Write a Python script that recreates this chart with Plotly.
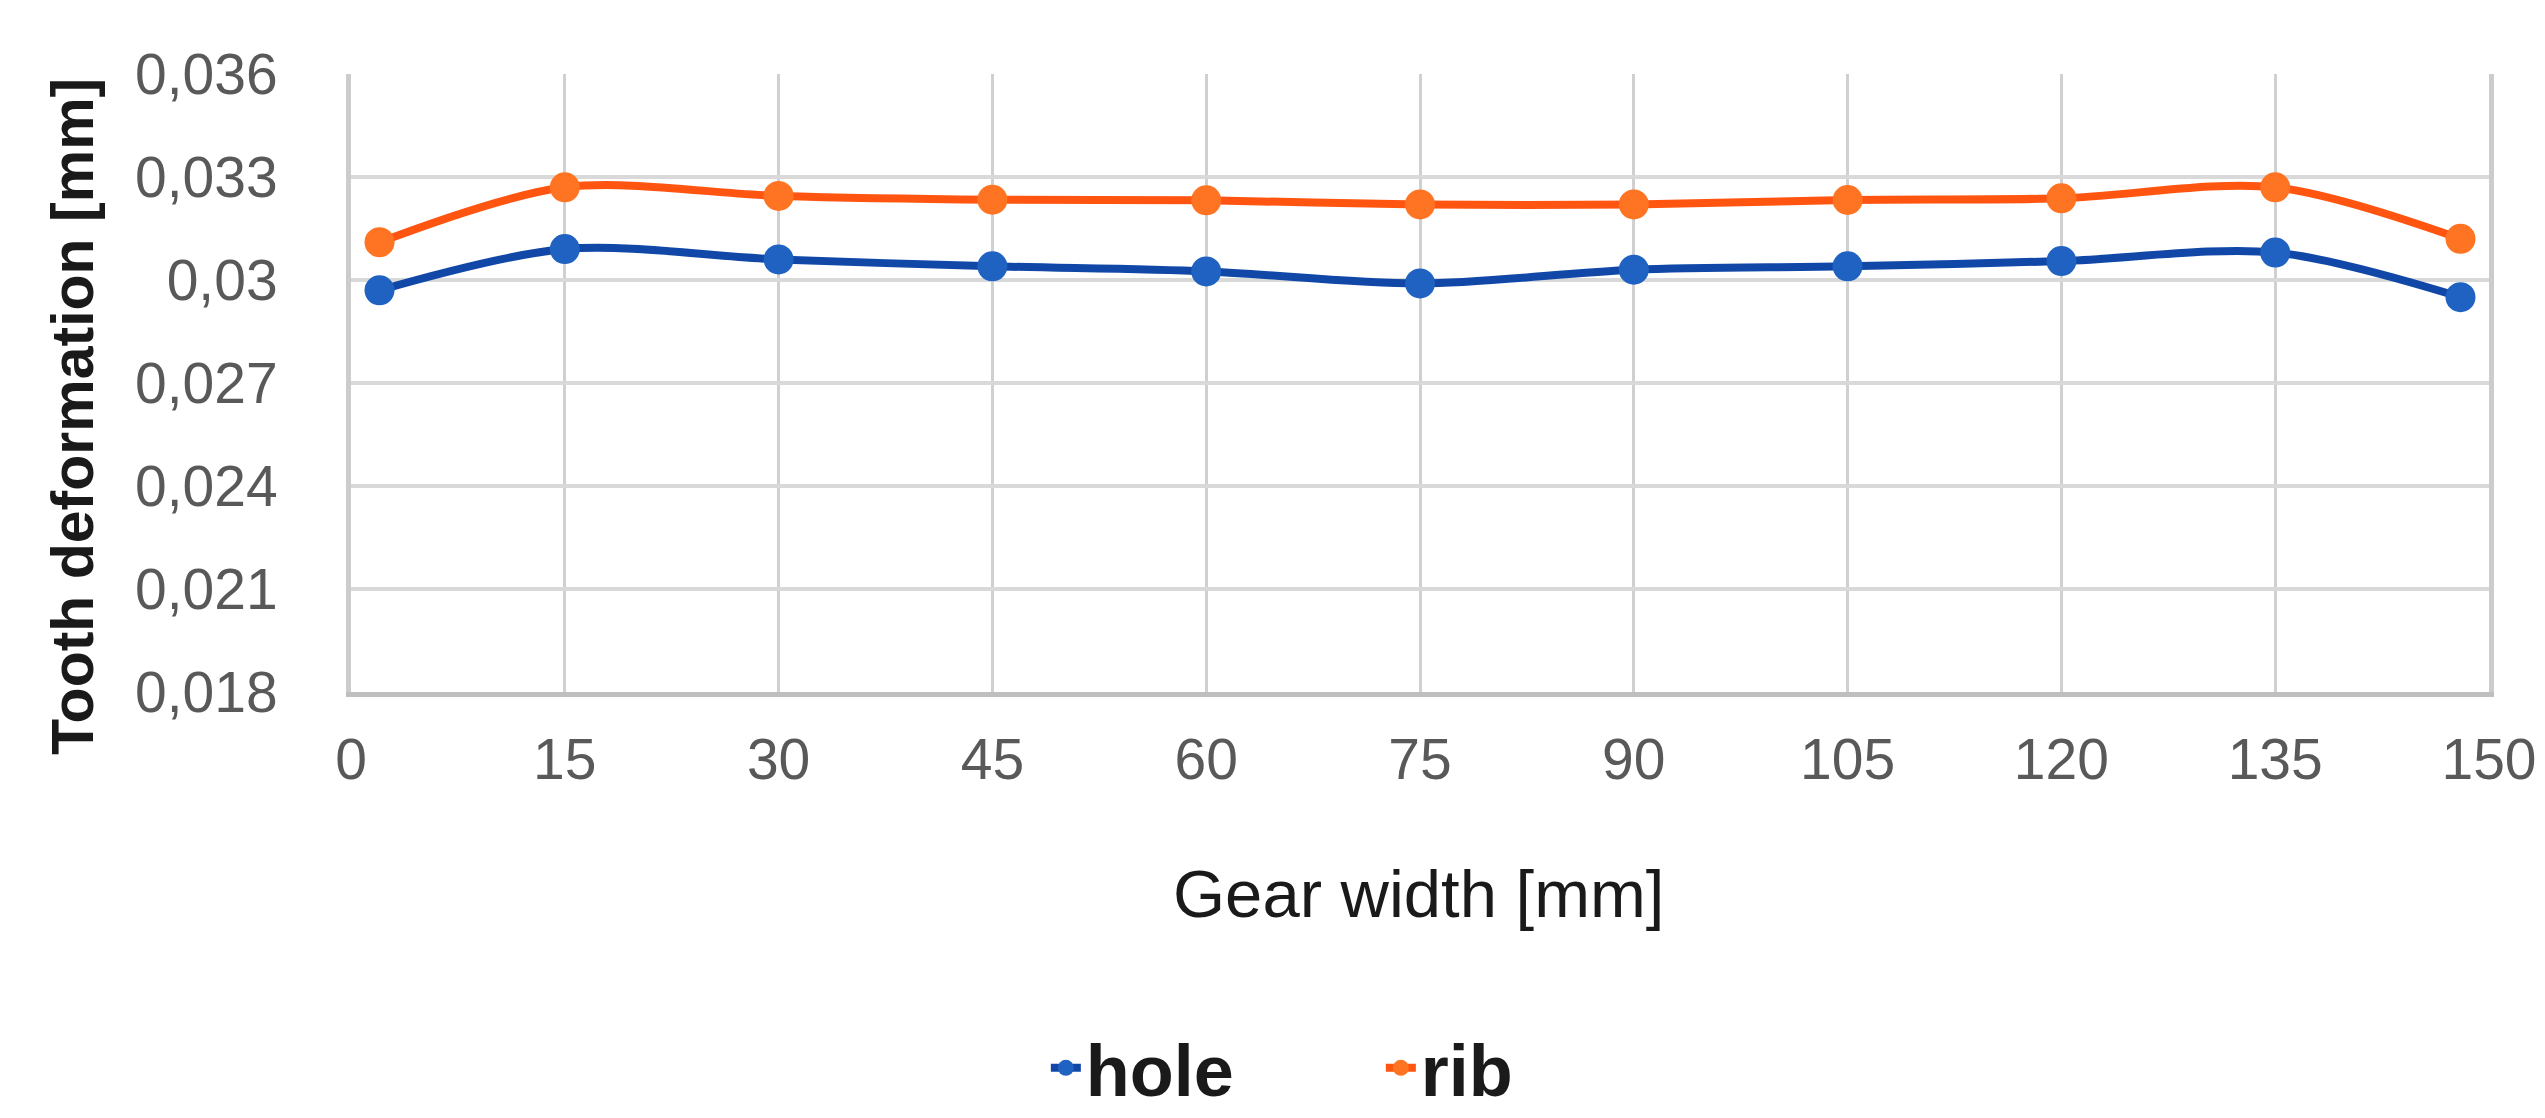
import plotly.graph_objects as go

# ---- data ----
gear_width = [2, 15, 30, 45, 60, 75, 90, 105, 120, 135, 148]
hole = [0.0297, 0.0309, 0.0306, 0.0304, 0.03025, 0.0299, 0.0303, 0.0304, 0.03055, 0.0308, 0.0295]
rib = [0.0311, 0.0327, 0.03245, 0.03234, 0.03232, 0.0322, 0.0322, 0.03233, 0.03238, 0.0327, 0.0312]

y_tickvals = [0.018, 0.021, 0.024, 0.027, 0.030, 0.033, 0.036]
y_ticktext = ["0,018", "0,021", "0,024", "0,027", "0,03", "0,033", "0,036"]
x_tickvals = [0, 15, 30, 45, 60, 75, 90, 105, 120, 135, 150]

series_names = ["hole", "rib"]
line_colors = ["#1148A8", "#FF5511"]
marker_colors = ["#1F62C2", "#FF7422"]

FONT = "Liberation Sans, Arial, sans-serif"

fig = go.Figure()
for name, vals, lc, mc in zip(series_names, [hole, rib], line_colors, marker_colors):
    fig.add_trace(go.Scatter(
        x=gear_width, y=vals, name=name, mode="lines+markers",
        line=dict(color=lc, width=8, shape="spline", smoothing=0.9),
        marker=dict(color=mc, size=30, line=dict(width=0)),
    ))

W, H = 2545, 1118
L, R, T, B = 343, 64, 66, 434

fig.update_layout(
    width=W, height=H,
    margin=dict(l=L, r=R, t=T, b=B, autoexpand=False),
    paper_bgcolor="white", plot_bgcolor="white",
    font=dict(family=FONT, color="#595959"),
    showlegend=True,
    legend=dict(
        orientation="h", x=0.325, xanchor="left", y=-0.695, yanchor="bottom",
        font=dict(size=72, color="#1a1a1a", family=FONT, weight="bold"),
        entrywidth=290, itemwidth=30, bgcolor="rgba(0,0,0,0)",
    ),
    xaxis=dict(
        range=[0, 150], tickvals=x_tickvals, ticks="", ticklabelstandoff=14,
        showgrid=True, gridcolor="#D0D0D0", gridwidth=3,
        showline=True, linecolor="#BFBFBF", linewidth=5, mirror=False,
        zeroline=False, tickfont=dict(size=57, color="#595959", family=FONT),
    ),
    yaxis=dict(
        range=[0.018, 0.036], tickvals=y_tickvals, ticktext=y_ticktext, ticks="",
        ticklabelstandoff=57,
        showgrid=True, gridcolor="#D9D9D9", gridwidth=4,
        showline=True, linecolor="#CCCCCC", linewidth=5, mirror=True,
        zeroline=False, tickfont=dict(size=57, color="#595959", family=FONT),
    ),
    annotations=[
        dict(text="Tooth deformation [mm]", xref="paper", yref="paper",
             x=-0.13, y=0.445, xanchor="center", yanchor="middle", textangle=-90,
             showarrow=False, font=dict(size=59, color="#1a1a1a", family=FONT, weight="bold")),
        dict(text="Gear width [mm]", xref="paper", yref="paper",
             x=(1410 - L) / (W - L - R), y=(H - B - 885) / (H - T - B),
             xanchor="center", yanchor="middle", showarrow=False,
             font=dict(size=67, color="#1a1a1a", family=FONT)),
    ],
)

fig.write_html("out.html")
